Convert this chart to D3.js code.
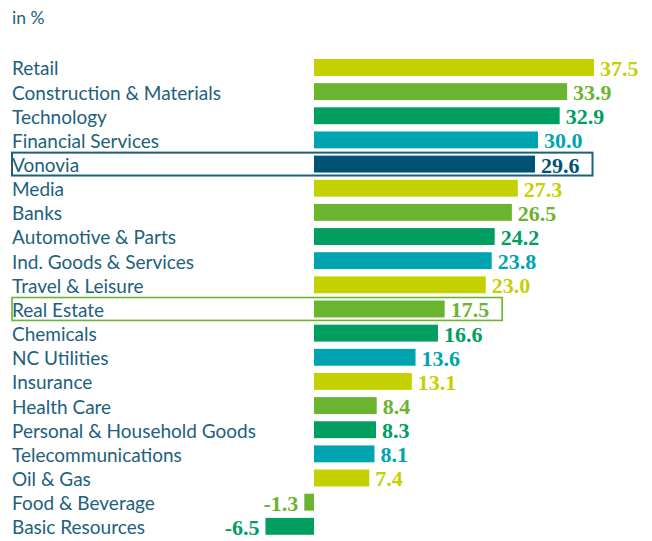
<!DOCTYPE html>
<html>
<head>
<meta charset="utf-8">
<script src="https://cdn.jsdelivr.net/npm/d3@7"></script>
<style>
  html, body { margin: 0; padding: 0; background: #fff; }
</style>
</head>
<body>
<svg id="chart" width="652" height="541"></svg>
<script>
const categories = ["Retail","Construction & Materials","Technology","Financial Services","Vonovia","Media","Banks","Automotive & Parts","Ind. Goods & Services","Travel & Leisure","Real Estate","Chemicals","NC Utilities","Insurance","Health Care","Personal & Household Goods","Telecommunications","Oil & Gas","Food & Beverage","Basic Resources"];
const values = [37.5,33.9,32.9,30.0,29.6,27.3,26.5,24.2,23.8,23.0,17.5,16.6,13.6,13.1,8.4,8.3,8.1,7.4,-1.3,-6.5];
const barColors = ["#c4d100","#6ab42f","#009e60","#00a4b0","#005373","#c4d100","#6ab42f","#009e60","#00a4b0","#c4d100","#6ab42f","#009e60","#00a4b0","#c4d100","#6ab42f","#009e60","#00a4b0","#c4d100","#6ab42f","#009e60"];
const highlights = [{name:"Vonovia", color:"#1e5f78", width:2},{name:"Real Estate", color:"#6ab42f", width:1.6}];
const unitLabel = "in %";

const svg = d3.select("#chart");
const labelColor = "#21607c";

const y = d3.scaleBand().domain(categories).range([55.4, 538.4]).paddingInner(0.3).paddingOuter(0.15);
const x = d3.scaleLinear().domain([0, 37.5]).range([314, 594]);
const fmt = v => v.toFixed(1);

svg.append("text").attr("x", 12).attr("y", 24)
  .attr("font-family", "Lato, 'Open Sans', sans-serif").attr("font-size", 17.5)
  .attr("fill", labelColor).text(unitLabel);

const rows = svg.append("g");
const row = rows.selectAll("g").data(categories).join("g");

row.append("rect")
  .attr("x", (d,i) => Math.min(x(0), x(values[i])))
  .attr("width", (d,i) => Math.abs(x(values[i]) - x(0)))
  .attr("y", d => y(d))
  .attr("height", y.bandwidth())
  .attr("fill", (d,i) => barColors[i]);

row.append("text")
  .attr("x", 12)
  .attr("y", d => y(d) + y.bandwidth() - 0.5)
  .attr("font-family", "Lato, 'Open Sans', sans-serif")
  .attr("font-size", 19)
  .attr("fill", labelColor)
  .text(d => d);

const valTexts = row.append("text")
  .attr("class", "val")
  .attr("x", (d,i) => values[i] >= 0 ? x(values[i]) + 6 : x(values[i]) - 6)
  .attr("text-anchor", (d,i) => values[i] >= 0 ? "start" : "end")
  .attr("y", d => y(d) + y.bandwidth())
  .attr("font-family", "'Liberation Serif', 'DejaVu Serif', serif")
  .attr("font-weight", "bold")
  .attr("font-size", 22)
  .attr("fill", (d,i) => barColors[i])
  .text((d,i) => fmt(values[i]));

highlights.forEach(h => {
  const idx = categories.indexOf(h.name);
  const node = valTexts.nodes()[idx];
  const bb = node.getBBox();
  const right = bb.x + bb.width + 13;
  svg.append("rect")
    .attr("x", 12)
    .attr("y", y(h.name) - 3)
    .attr("width", right - 12)
    .attr("height", y.bandwidth() + 6)
    .attr("fill", "none")
    .attr("stroke", h.color)
    .attr("stroke-width", h.width);
});
</script>
</body>
</html>
